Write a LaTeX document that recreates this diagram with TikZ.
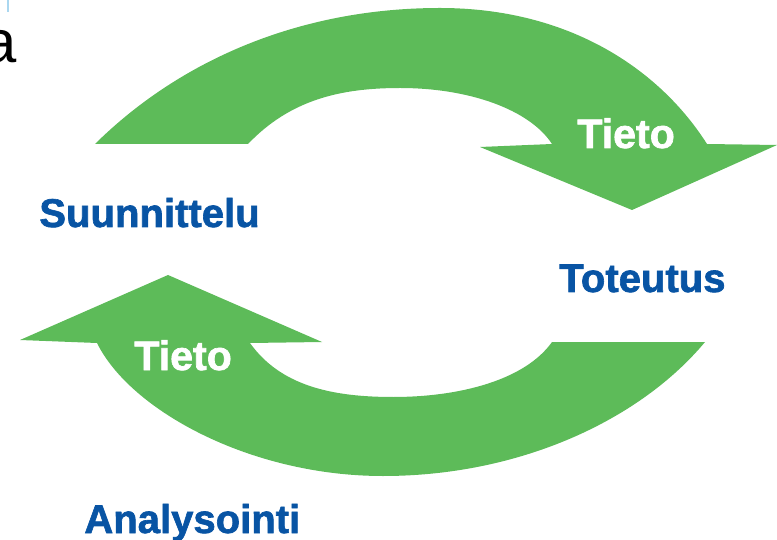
\documentclass[tikz,border=0pt]{standalone}
\usepackage{fontspec}
\setmainfont{Liberation Sans}
\newfontface\heavysans[FakeBold=1.6]{Liberation Sans Bold}
\usetikzlibrary{positioning}
\definecolor{cyclegreen}{RGB}{93,187,89}
\definecolor{phaseblue}{RGB}{8,84,164}
\definecolor{edgeblue}{RGB}{170,215,240}

\begin{document}
\begin{tikzpicture}[x=0.02cm, y=-0.02cm]
\tikzstyle{cyclearrow} = [fill=cyclegreen, draw=none]
\tikzstyle{phase} = [font=\heavysans\fontsize{22.8}{22.8}\selectfont, text=phaseblue, anchor=base west, inner sep=0pt]
\tikzstyle{flow} = [font=\heavysans\fontsize{23.4}{23.4}\selectfont, text=white, anchor=base west, inner sep=0pt]

\useasboundingbox (0,0) rectangle (777,540);
\clip (0,0) rectangle (777,540);

% cut-off fragments at the top left
\draw [edgeblue, line width=1.2pt] (8,0) -- (8,12);
\node [font=\fontsize{34}{34}\selectfont, anchor=base east, inner sep=0pt] (frag) at (17,63) {a};

% upper arrow
\path [cyclearrow] (95,144) .. controls (180,60) and (300,8) .. (440,8)
  .. controls (570,8) and (660,70) .. (707,144)
  -- (777,145) -- (632,210) -- (480,147) -- (552,144)
  .. controls (530,110) and (470,88) .. (400,88)
  .. controls (340,88) and (290,100) .. (248,144) -- cycle;

% lower arrow
\path [cyclearrow] (705,342) -- (552,342)
  .. controls (525,380) and (460,397) .. (393,397)
  .. controls (330,397) and (280,385) .. (250,343)
  -- (322,342) -- (168,275) -- (20,340) -- (97,343)
  .. controls (130,410) and (250,476) .. (383,476)
  .. controls (520,476) and (640,420) .. (705,342) -- cycle;

\node [phase] (plan) at (39,227) {Suunnittelu};
\node [phase] (impl) at (559,292) {Toteutus};
\node [phase] (anal) at (84,533) {Analysointi};
\node [flow] (infoA) at (577,148) {Tieto};
\node [flow] (infoB) at (134,370) {Tieto};
\end{tikzpicture}
\end{document}
